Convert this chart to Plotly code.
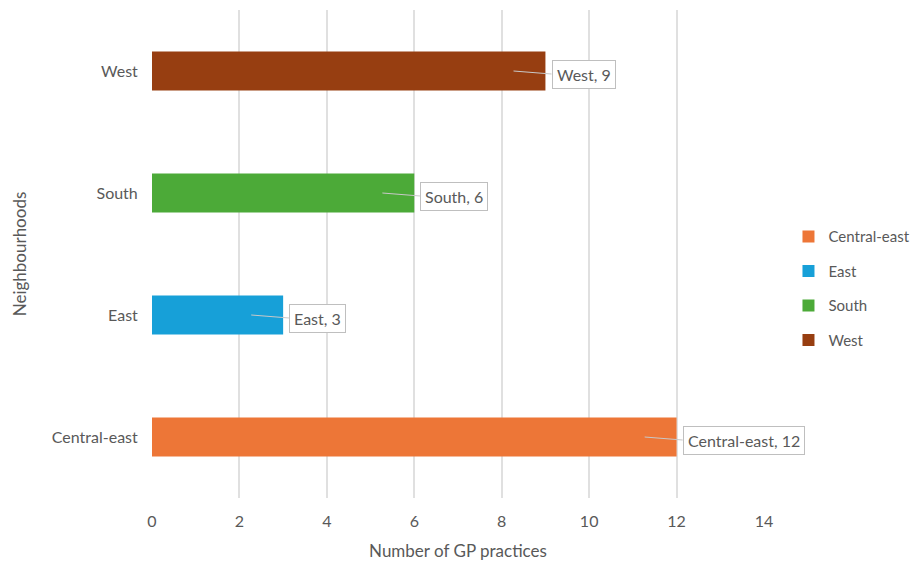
import plotly.graph_objects as go

# Data
neighbourhoods = ["Central-east", "East", "South", "West"]
gp_practices = [12, 3, 6, 9]
colours = ["rgb(237,118,55)", "rgb(23,160,216)", "rgb(76,170,56)", "rgb(151,62,17)"]
x_ticks = [0, 2, 4, 6, 8, 10, 12, 14]

grey_text = "#595959"
font_family = "Lato, 'Open Sans', sans-serif"

fig = go.Figure()

for name, val, col in zip(neighbourhoods, gp_practices, colours):
    fig.add_trace(go.Bar(
        y=[name], x=[val], name=name, orientation="h",
        marker=dict(color=col, line=dict(width=0)),
        width=0.32, legendgroup=name,
    ))

# callout labels at the end of each bar
for name, val in zip(neighbourhoods, gp_practices):
    fig.add_annotation(
        x=val - 0.73, y=name, xref="x", yref="y",
        text=f"{name}, {val}", showarrow=True,
        arrowhead=0, arrowwidth=1, arrowcolor="#c8c8c8",
        ax=38, ay=3, xanchor="left",
        bgcolor="white", bordercolor="#bfbfbf", borderwidth=1, borderpad=4,
        font=dict(size=16, color=grey_text, family=font_family),
    )

# page body adds an 8px margin, so the figure is a bit smaller than the window
fig.update_layout(
    width=911, height=557,
    margin=dict(l=144, r=155, t=2, b=67),
    plot_bgcolor="white", paper_bgcolor="white",
    barmode="overlay",
    font=dict(family=font_family, color=grey_text, size=15),
    legend=dict(
        x=1.04, y=0.43, xanchor="left", yanchor="middle",
        traceorder="grouped", tracegroupgap=12,
        font=dict(size=15, color=grey_text),
        itemwidth=30,
    ),
    xaxis=dict(
        range=[0, 14.0], tickvals=x_ticks, showgrid=True, automargin=False,
        gridcolor="#e0e0e0", gridwidth=1.5, zeroline=False,
        showline=False, ticks="outside", ticklen=9, tickcolor="white",
        title=dict(text="Number of GP practices", standoff=15,
                   font=dict(size=17, color=grey_text)),
        tickfont=dict(size=16, color=grey_text),
    ),
    yaxis=dict(
        categoryorder="array", categoryarray=neighbourhoods, automargin=False,
        range=[-0.5, 3.5], showgrid=False, zeroline=False, showline=False,
        ticks="outside", ticklen=10, tickcolor="white",
        title=dict(text="Neighbourhoods", standoff=20,
                   font=dict(size=17, color=grey_text)),
        tickfont=dict(size=16, color=grey_text),
    ),
)

fig.write_html("out.html")
